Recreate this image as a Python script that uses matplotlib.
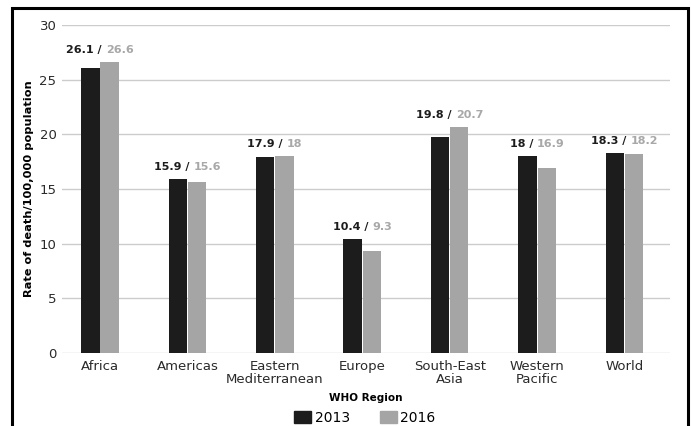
import matplotlib.pyplot as plt
import matplotlib.patches as mpatches
import numpy as np

# datos del gráfico
regiones = ['Africa', 'Americas', 'Eastern\nMediterranean', 'Europe',
            'South-East\nAsia', 'Western\nPacific', 'World']
tasa_2013 = [26.1, 15.9, 17.9, 10.4, 19.8, 18, 18.3]
tasa_2016 = [26.6, 15.6, 18, 9.3, 20.7, 16.9, 18.2]
etiquetas_2013 = ['26.1', '15.9', '17.9', '10.4', '19.8', '18', '18.3']
etiquetas_2016 = ['26.6', '15.6', '18', '9.3', '20.7', '16.9', '18.2']
y_ticks = [0, 5, 10, 15, 20, 25, 30]

NEGRO = '#1c1c1c'
GRIS = '#a5a5a5'
GRIS_TXT = '#a8a8a8'
TXT = '#2a2a2a'

plt.rcParams['font.family'] = ['DejaVu Sans']

W, H = 691, 426
fig = plt.figure(figsize=(W / 100, H / 100), dpi=100)
ax = fig.add_axes([62 / W, 1 - 353 / H, (670 - 62) / W, (353 - 25) / H])

x = np.arange(len(regiones))
ancho = 0.21
ax.bar(x - ancho / 2 - 0.005, tasa_2013, ancho, color=NEGRO, zorder=3, label='2013')
ax.bar(x + ancho / 2 + 0.005, tasa_2016, ancho, color=GRIS, zorder=3, label='2016')

ax.set_xlim(-0.435, 6.52)
ax.set_ylim(0, 30)
ax.set_yticks(y_ticks)
ax.set_xticks(x)
ax.set_xticklabels(regiones, fontsize=9.5, color=TXT, linespacing=1.05)
ax.tick_params(axis='y', labelsize=9.5, colors=TXT, length=0, pad=4)
ax.tick_params(axis='x', length=0, pad=5)
ax.grid(axis='y', color='#cccccc', lw=1, zorder=0)
for s in ax.spines.values():
    s.set_visible(False)

ax.set_ylabel('Rate of death/100,000 population', fontsize=8.2, fontweight='bold',
              labelpad=4)
ax.set_xlabel('WHO Region', fontsize=7.5, fontweight='bold', labelpad=5)

# etiquetas "2013 / 2016" encima de cada grupo
for i in range(len(regiones)):
    alto = max(tasa_2013[i], tasa_2016[i])
    ax.annotate(etiquetas_2013[i] + ' / ', (i, alto), xytext=(0, 6.5),
                textcoords='offset points', ha='right', va='baseline',
                fontsize=8, fontweight='bold', color=NEGRO)
    ax.annotate(etiquetas_2016[i], (i, alto), xytext=(0, 6.5),
                textcoords='offset points', ha='left', va='baseline',
                fontsize=8, fontweight='bold', color=GRIS_TXT)

# centrar el par de textos sobre el grupo
fig.canvas.draw()
rend = fig.canvas.get_renderer()
textos = ax.texts
for k in range(0, len(textos), 2):
    a, b = textos[k], textos[k + 1]
    wa = a.get_window_extent(rend).width
    wb = b.get_window_extent(rend).width
    dx = (wa - wb) / 2 * 72 / 100
    a.set_position((dx, 6.5))
    b.set_position((dx, 6.5))

fig.legend(handles=[mpatches.Patch(color=NEGRO, label='2013'),
                    mpatches.Patch(color=GRIS, label='2016')],
           loc='center', bbox_to_anchor=(365 / W, 1 - 418 / H), ncol=2,
           frameon=False, fontsize=10, handlelength=1.2, handleheight=1.0,
           handletextpad=0.25, columnspacing=2.2, borderaxespad=0,
           borderpad=0)

# marco negro de la imagen
marco = mpatches.Rectangle((12 / W, -0.05), (688 - 12) / W, 1 - 8 / H + 0.05,
                           transform=fig.transFigure, fill=False,
                           edgecolor='black', lw=2.2)
fig.patches.append(marco)

fig.savefig('out.png', dpi=100)
